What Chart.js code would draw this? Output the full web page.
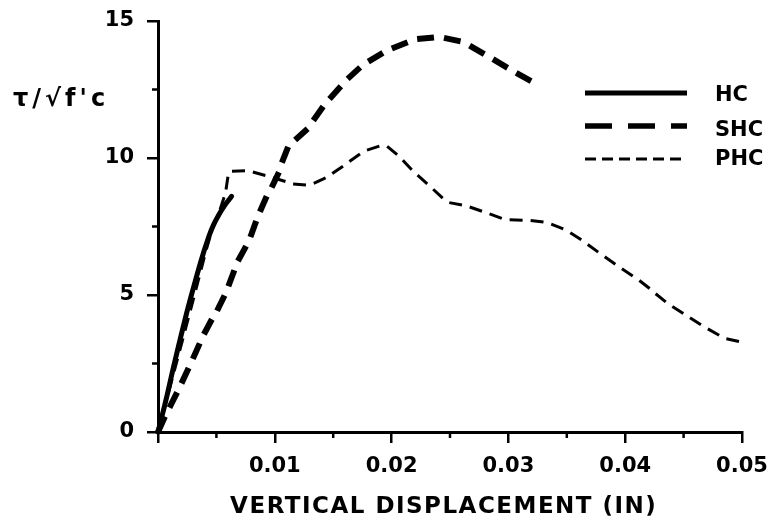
<!DOCTYPE html>
<html><head><meta charset="utf-8">
<script src="https://cdn.jsdelivr.net/npm/chart.js@4"></script>
<style>html,body{margin:0;padding:0;background:#fff}</style>
</head><body>
<canvas id="c" width="774" height="519"></canvas>
<script>
const seriesNames = ['HC', 'SHC', 'PHC'];
const hcX = [0, 0.0007, 0.0014, 0.0028, 0.0045, 0.0056, 0.0063];
const hcY = [0, 1.2, 2.5, 4.9, 7.3, 8.2, 8.6];
const shcX = [0, 0.0003, 0.0017, 0.0028, 0.0042, 0.0054, 0.0061, 0.0069, 0.0078, 0.0085, 0.0093, 0.0102, 0.0110, 0.0125, 0.0140, 0.0154, 0.0170, 0.0191, 0.0212, 0.0231, 0.0256, 0.0283, 0.0311, 0.0322];
const shcY = [0, 0.3, 1.5, 2.5, 3.8, 4.7, 5.4, 6.3, 7.0, 7.8, 8.6, 9.3, 10.3, 10.9, 11.8, 12.5, 13.2, 13.8, 14.2, 14.4, 14.3, 13.7, 13.0, 12.75];
const phcX = [0, 0.0015, 0.0030, 0.0045, 0.0058, 0.0061, 0.0073, 0.0092, 0.0107, 0.0123, 0.0139, 0.0155, 0.0178, 0.0194, 0.0204, 0.0218, 0.0232, 0.0249, 0.0263, 0.0280, 0.0300, 0.0320, 0.0340, 0.0357, 0.0377, 0.0399, 0.0416, 0.0433, 0.0450, 0.0470, 0.0490, 0.0498];
const phcY = [0, 2.4, 4.8, 7.2, 8.8, 9.5, 9.54, 9.36, 9.17, 9.0, 9.17, 9.6, 10.27, 10.45, 10.15, 9.54, 9.0, 8.38, 8.26, 8.02, 7.75, 7.72, 7.54, 7.17, 6.56, 5.9, 5.41, 4.8, 4.32, 3.78, 3.35, 3.3];
const xTickValues = [0, 0.01, 0.02, 0.03, 0.04, 0.05];
const xMinorTicks = [0.005, 0.015, 0.025, 0.035, 0.045];
const yTickValues = [0, 5, 10, 15];
const yMinorTicks = [2.5, 7.5, 12.5];
const xTitle = 'VERTICAL DISPLACEMENT (IN)';
const yTitle = 'τ/√f\'c';

const pts = (xs, ys) => xs.map((x, i) => ({x, y: ys[i]}));
const FONT = '"DejaVu Sans", sans-serif';

const styles = [
  {width: 5, dash: [], legendDash: [], legendWidth: 5},
  {width: 6, dash: [17, 10], legendDash: [27, 16], legendWidth: 5.5},
  {width: 3, dash: [13, 8], legendDash: [11, 6], legendWidth: 2.8}
];
const datasets = [pts(hcX, hcY), pts(shcX, shcY), pts(phcX, phcY)].map((d, i) => ({
  label: seriesNames[i], data: d, borderColor: 'rgba(0,0,0,0)', backgroundColor: '#000',
  borderWidth: 1, pointRadius: 0, cubicInterpolationMode: 'monotone', fill: false
}));

const zeroPad = s => { s.paddingTop = 0; s.paddingBottom = 0; s.paddingLeft = 0; s.paddingRight = 0; };

function strokePoly(ctx, poly) {
  if (poly.length < 2) return;
  ctx.beginPath();
  ctx.moveTo(poly[0][0], poly[0][1]);
  for (let k = 1; k < poly.length; k++) ctx.lineTo(poly[k][0], poly[k][1]);
  ctx.stroke();
}
// walk along the polyline; each dash is stroked as its own single straight segment
function strokeDashes(ctx, poly, dash, gap) {
  let on = true, remaining = dash, start = poly[0];
  for (let k = 1; k < poly.length; k++) {
    const a = poly[k - 1], b = poly[k];
    const len = Math.hypot(b[0] - a[0], b[1] - a[1]);
    if (!(len > 0)) continue;
    let t0 = 0;
    while (len - t0 > remaining) {
      t0 += remaining;
      const f = t0 / len;
      const p = [a[0] + (b[0] - a[0]) * f, a[1] + (b[1] - a[1]) * f];
      if (on) {
        ctx.beginPath(); ctx.moveTo(start[0], start[1]); ctx.lineTo(p[0], p[1]); ctx.stroke();
      } else {
        start = p;
      }
      on = !on;
      remaining = on ? dash : gap;
    }
    remaining -= (len - t0);
  }
  if (on) {
    const end = poly[poly.length - 1];
    ctx.beginPath(); ctx.moveTo(start[0], start[1]); ctx.lineTo(end[0], end[1]); ctx.stroke();
  }
}

// strokes each dataset along the Chart.js-computed point/curve geometry
const styledLines = {
  id: 'styledLines',
  afterDatasetsDraw(chart) {
    const ctx = chart.ctx;
    ctx.save();
    ctx.strokeStyle = '#000';
    ctx.setLineDash([]);
    chart.data.datasets.forEach((ds, i) => {
      const meta = chart.getDatasetMeta(i);
      const line = meta.dataset;
      try { if (line && line.updateControlPoints) line.updateControlPoints(chart.chartArea, 'x'); } catch (e) {}
      const els = meta.data;
      const poly = [];
      els.forEach((p, k) => {
        if (k === 0) { poly.push([p.x, p.y]); return; }
        const q = els[k - 1];
        const ok = [q.cp2x, q.cp2y, p.cp1x, p.cp1y].every(v => Number.isFinite(v));
        if (!ok) { poly.push([p.x, p.y]); return; }
        for (let s = 1; s <= 12; s++) {
          const t = s / 12, u = 1 - t;
          poly.push([
            u * u * u * q.x + 3 * u * u * t * q.cp2x + 3 * u * t * t * p.cp1x + t * t * t * p.x,
            u * u * u * q.y + 3 * u * u * t * q.cp2y + 3 * u * t * t * p.cp1y + t * t * t * p.y
          ]);
        }
      });
      ctx.lineWidth = styles[i].width;
      if (!styles[i].dash.length) {
        ctx.lineCap = 'round'; ctx.lineJoin = 'round';
        strokePoly(ctx, poly);
      } else {
        ctx.lineCap = 'butt'; ctx.lineJoin = 'miter';
        strokeDashes(ctx, poly, styles[i].dash[0], styles[i].dash[1]);
      }
    });
    ctx.restore();
  }
};

const deco = {
  id: 'deco',
  afterDraw(chart) {
    const ctx = chart.ctx, xs = chart.scales.x, ys = chart.scales.y;
    ctx.save();
    ctx.strokeStyle = '#000'; ctx.lineWidth = 2.5; ctx.setLineDash([]);
    xMinorTicks.forEach(v => {
      const px = xs.getPixelForValue(v);
      ctx.beginPath(); ctx.moveTo(px, ys.bottom); ctx.lineTo(px, ys.bottom + 6); ctx.stroke();
    });
    yMinorTicks.forEach(v => {
      const py = ys.getPixelForValue(v);
      ctx.beginPath(); ctx.moveTo(xs.left, py); ctx.lineTo(xs.left - 6, py); ctx.stroke();
    });
    ctx.fillStyle = '#000';
    ctx.font = 'bold 24px ' + FONT;
    ctx.textAlign = 'left'; ctx.textBaseline = 'middle';
    ctx.letterSpacing = '4px';
    ctx.fillText(yTitle, 13, 100);
    ctx.font = 'bold 23px ' + FONT;
    ctx.letterSpacing = '1.5px';
    const w = ctx.measureText(xTitle).width - 1.5;
    ctx.fillText(xTitle, 443 - w / 2, 507);
    ctx.letterSpacing = '0px';
    ctx.font = 'bold 21px ' + FONT;
    const legY = [93, 126, 159];
    const txtY = [96, 131, 160];
    chart.data.datasets.forEach((ds, i) => {
      ctx.lineWidth = styles[i].legendWidth;
      ctx.setLineDash(styles[i].legendDash);
      ctx.lineCap = 'butt';
      ctx.beginPath(); ctx.moveTo(585, legY[i]); ctx.lineTo(687, legY[i]); ctx.stroke();
      ctx.setLineDash([]);
      ctx.fillText(ds.label, 715, txtY[i]);
    });
    ctx.restore();
  }
};

new Chart(document.getElementById('c'), {
  type: 'line',
  data: {datasets},
  options: {
    responsive: false, animation: false,
    layout: {padding: {left: 0, right: 32, top: 21, bottom: 0}},
    plugins: {legend: {display: false}, tooltip: {enabled: false}},
    scales: {
      x: {
        type: 'linear', min: 0, max: 0.05,
        afterBuildTicks: s => { s.ticks = xTickValues.map(v => ({value: v})); },
        afterFit: s => { s.height = 87; zeroPad(s); },
        border: {display: true, color: '#000', width: 3},
        grid: {drawOnChartArea: false, drawTicks: true, tickLength: 11, color: '#000', lineWidth: 2.5},
        ticks: {color: '#000', padding: 11, maxRotation: 0, font: {family: FONT, size: 21, weight: 'bold'},
          callback: v => v === 0 ? '' : v.toFixed(2)}
      },
      y: {
        type: 'linear', min: 0, max: 15,
        afterBuildTicks: s => { s.ticks = yTickValues.map(v => ({value: v})); },
        afterFit: s => { s.width = 158; zeroPad(s); },
        border: {display: true, color: '#000', width: 3},
        grid: {drawOnChartArea: false, drawTicks: true, tickLength: 11, color: '#000', lineWidth: 2.5},
        ticks: {color: '#000', padding: 13, font: {family: FONT, size: 21, weight: 'bold'}}
      }
    }
  },
  plugins: [styledLines, deco]
});
</script>
</body></html>
